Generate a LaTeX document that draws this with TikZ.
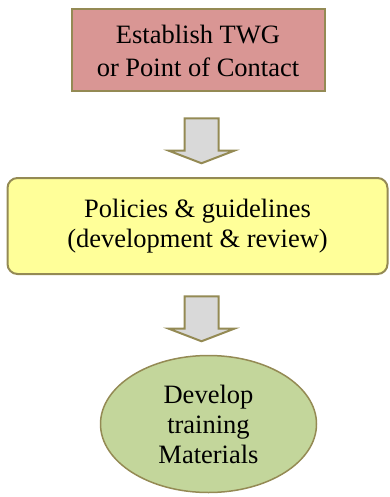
\documentclass[tikz,border=0pt]{standalone}
\usepackage{fontspec}
\setmainfont{Liberation Serif}
\usetikzlibrary{shapes.geometric,shapes.arrows,positioning}
\definecolor{twgPink}{RGB}{217,150,148}
\definecolor{policyYellow}{RGB}{255,255,153}
\definecolor{trainGreen}{RGB}{195,214,155}
\definecolor{oliveLine}{RGB}{148,138,84}
\definecolor{arrowGray}{RGB}{217,217,217}

\begin{document}
\begin{tikzpicture}[x=1pt, y=-1pt,
        stepbox/.style={draw=oliveLine, line width=2pt, fill=#1, align=center, inner sep=0pt, font=\rmfamily\fontsize{26.5}{30}\selectfont},
        downarrow/.style={single arrow, draw=oliveLine, line width=2pt, fill=arrowGray, rotate=-90, minimum height=45pt, inner xsep=0pt, inner ysep=16pt, single arrow head extend=16pt, single arrow tip angle=138}
    ]
        \useasboundingbox (0,0) rectangle (390,497);
        % Steps
        \node[stepbox=twgPink, minimum width=253pt, minimum height=82pt, font=\rmfamily\fontsize{26.5}{33}\selectfont] (twg) at (198,50.5) {
            Establish TWG\\
            or Point of Contact
        };
        \node[stepbox=policyYellow, rounded corners=10pt, minimum width=380pt, minimum height=96pt] (policy) at (197.5,226) {
            Policies \& guidelines\\
            (development \& review)
        };
        \node[stepbox=trainGreen, ellipse, line width=1.5pt, minimum width=216pt, minimum height=137pt] (training) at (208.5,424) {
            Develop\\
            training\\
            Materials
        };
        
        % Arrows
        \node[downarrow] (arr1) at (201.5,137.5) {};
        \node[downarrow] (arr2) at (201.5,315.5) {};
        
    \end{tikzpicture}
\end{document}
